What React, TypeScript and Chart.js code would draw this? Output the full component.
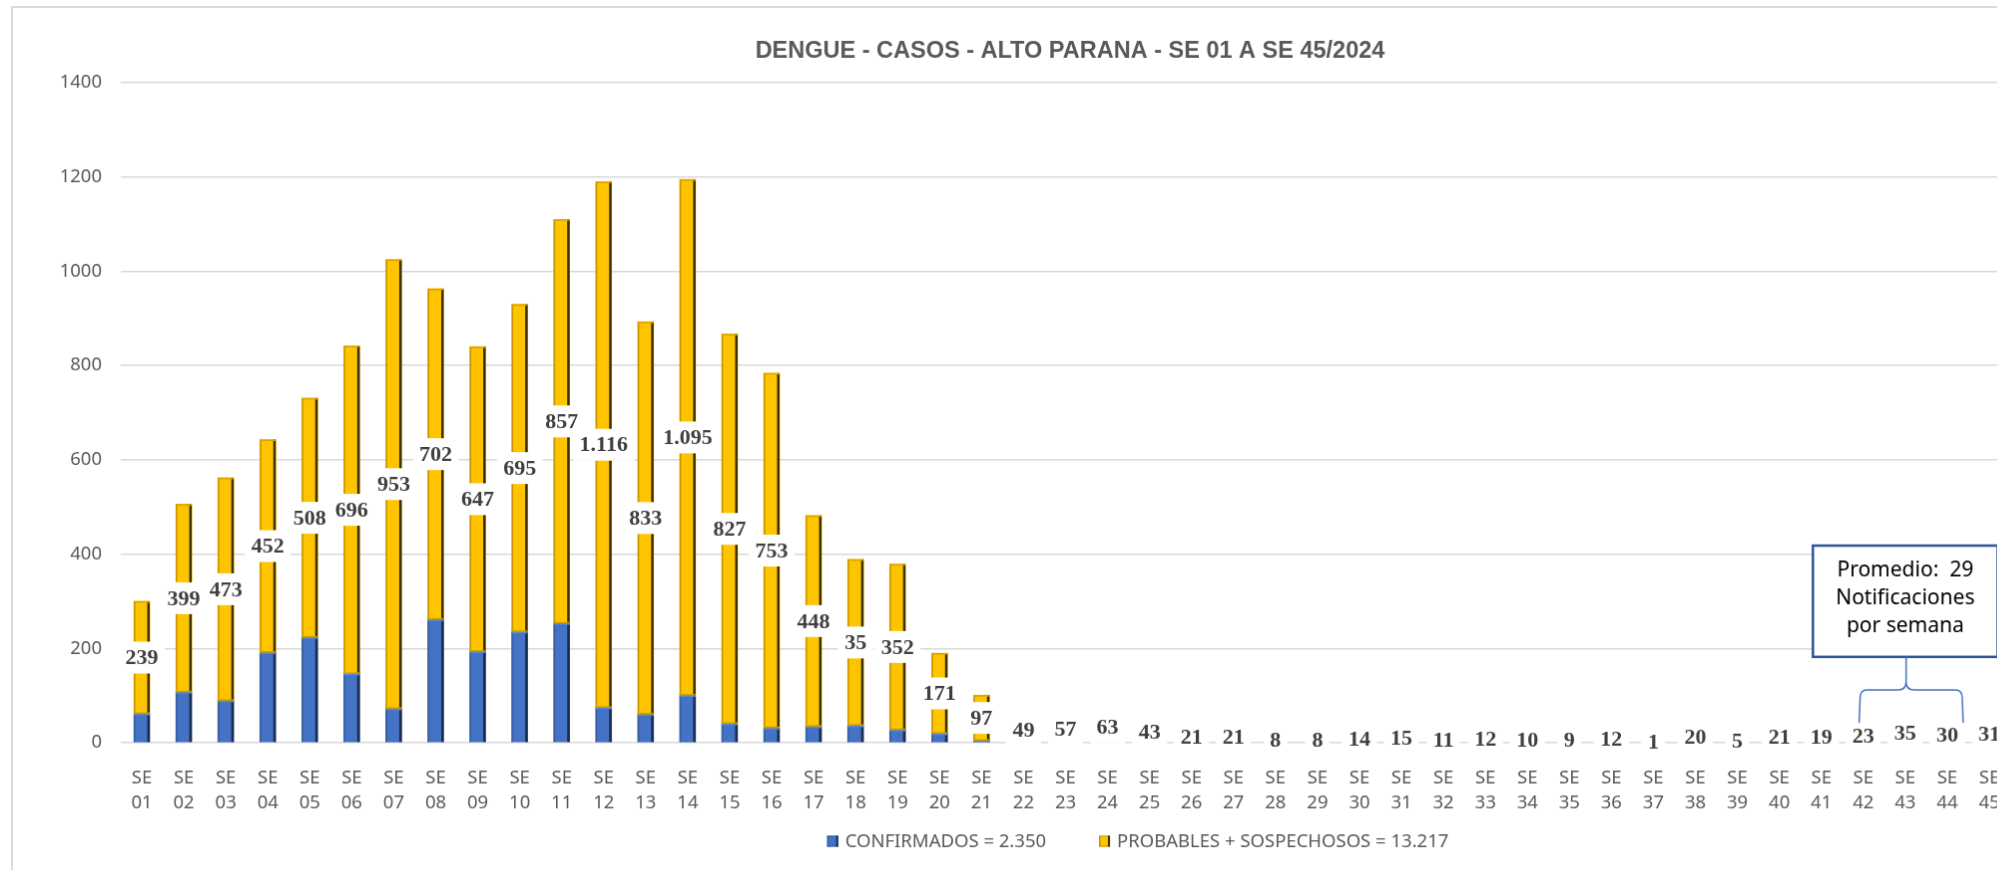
import React, { useEffect, useRef } from "react";
import { Chart, registerables } from "chart.js";

Chart.register(...registerables);

// ---------------- data ----------------
const weeks = [
  "01", "02", "03", "04", "05", "06", "07", "08", "09", "10",
  "11", "12", "13", "14", "15", "16", "17", "18", "19", "20",
  "21", "22", "23", "24", "25", "26", "27", "28", "29", "30",
  "31", "32", "33", "34", "35", "36", "37", "38", "39", "40",
  "41", "42", "43", "44", "45",
];

const confirmados = [
  61, 107, 89, 191, 223, 146, 72, 261, 193, 235,
  253, 74, 60, 100, 40, 31, 34, 36, 27, 19,
  4, 3, 1, 0, 1, 0, 1, 1, 1, 1,
  2, 1, 2, 1, 1, 2, 0, 2, 0, 2,
  2, 2, 2, 2, 2,
];

const probables = [
  239, 399, 473, 452, 508, 696, 953, 702, 647, 695,
  857, 1116, 833, 1095, 827, 753, 448, 353, 352, 171,
  97, 49, 57, 63, 43, 21, 21, 8, 8, 14,
  15, 11, 12, 10, 9, 12, 1, 20, 5, 21,
  19, 23, 35, 30, 31,
];

const probablesLabels = [
  "239", "399", "473", "452", "508", "696", "953", "702", "647", "695",
  "857", "1.116", "833", "1.095", "827", "753", "448", "35", "352", "171",
  "97", "49", "57", "63", "43", "21", "21", "8", "8", "14",
  "15", "11", "12", "10", "9", "12", "1", "20", "5", "21",
  "19", "23", "35", "30", "31",
];

const seriesNames = ["CONFIRMADOS = 2.350", "PROBABLES + SOSPECHOSOS = 13.217"];
const chartTitle = "DENGUE - CASOS - ALTO PARANA - SE 01 A SE 45/2024";
const noteLines = ["Promedio:  29", "Notificaciones", "por semana"];

const yMin = 0;
const yMax = 1400;
const yStep = 200;

// ---------------- styles ----------------
const BLUE = "#4472c4";
const YELLOW = "#ffc400";
const FONT_SANS = "'Noto Sans', 'DejaVu Sans', sans-serif";
const FONT_TITLE = "'Liberation Sans', Arial, sans-serif";
const FONT_LABEL = "'Liberation Serif', 'Times New Roman', serif";
const TEXT_GRAY = "#595959";

const EDGES = [
  { left: "#36609f", right: "#1c2c4c", top: "#5b86d2", bottom: null },
  { left: "#c79500", right: "#3a3000", top: "#d9a200", bottom: "#c9a000" },
];

// annotation placement in data units (category index / value)
const NOTE = { from: 39.8, to: 44.2, center: 42, top: 418, bottom: 182 };
const BRACE = { left: 40.9, right: 43.38, center: 42.02, tip: 182, mid: 112, end: 42 };

const CANVAS_W = 2118;
const CANVAS_H = 880;

const decorPlugin = {
  id: "decor",
  afterDatasetsDraw(chart: any) {
    const ctx = chart.ctx as CanvasRenderingContext2D;
    ctx.save();
    // bar edges (3D-like shading)
    chart.data.datasets.forEach((_ds: any, di: number) => {
      const meta = chart.getDatasetMeta(di);
      const e = EDGES[di];
      meta.data.forEach((el: any) => {
        const { x, y, base, width } = el.getProps(["x", "y", "base", "width"], true);
        const left = x - width / 2;
        const top = Math.min(y, base);
        const h = Math.abs(base - y);
        if (h < 0.5) return;
        ctx.fillStyle = e.left;
        ctx.fillRect(left, top, 1.5, h);
        ctx.fillStyle = e.right;
        ctx.fillRect(left + width - 2.5, top, 2.5, h);
        ctx.fillStyle = e.top;
        ctx.fillRect(left, top, width, Math.min(1.5, h));
        if (e.bottom && h > 3) {
          ctx.fillStyle = e.bottom;
          ctx.fillRect(left, top + h - 1.5, width, 1.5);
        }
      });
    });
    // data labels of the yellow series
    const meta = chart.getDatasetMeta(1);
    ctx.font = `bold 22px ${FONT_LABEL}`;
    ctx.textAlign = "center";
    ctx.textBaseline = "middle";
    meta.data.forEach((el: any, i: number) => {
      const { x, y, base } = el.getProps(["x", "y", "base"], true);
      const cy = (y + base) / 2;
      const txt = probablesLabels[i];
      const tw = ctx.measureText(txt).width;
      const bw = tw + 13;
      const bh = 32;
      ctx.fillStyle = "#ffffff";
      ctx.fillRect(x - bw / 2, cy - bh / 2, bw, bh);
      ctx.fillStyle = "#404040";
      ctx.fillText(txt, x, cy + 1);
    });
    ctx.restore();
  },
  afterDraw(chart: any) {
    const ctx = chart.ctx as CanvasRenderingContext2D;
    const xs = chart.scales.x;
    const ys = chart.scales.y;
    ctx.save();

    // title
    ctx.fillStyle = TEXT_GRAY;
    ctx.font = `bold 23.5px ${FONT_TITLE}`;
    ctx.textAlign = "center";
    ctx.textBaseline = "middle";
    ctx.fillText(chartTitle, chart.width / 2, 44);

    // note box
    const bl = xs.getPixelForValue(NOTE.from);
    const br = xs.getPixelForValue(NOTE.to);
    const bt = ys.getPixelForValue(NOTE.top);
    const bb = ys.getPixelForValue(NOTE.bottom);
    ctx.fillStyle = "#ffffff";
    ctx.fillRect(bl, bt, br - bl, bb - bt);
    ctx.strokeStyle = "#2f5597";
    ctx.lineWidth = 2.5;
    ctx.strokeRect(bl, bt, br - bl, bb - bt);
    ctx.fillStyle = "#000000";
    ctx.font = `21px ${FONT_SANS}`;
    ctx.textAlign = "center";
    ctx.textBaseline = "middle";
    const cx = xs.getPixelForValue(NOTE.center);
    const cyMid = (bt + bb) / 2 - 3;
    noteLines.forEach((ln, i) => {
      ctx.fillText(ln, cx, cyMid + (i - 1) * 28);
    });

    // brace
    const L = xs.getPixelForValue(BRACE.left);
    const R = xs.getPixelForValue(BRACE.right);
    const C = xs.getPixelForValue(BRACE.center);
    const yTip = ys.getPixelForValue(BRACE.tip);
    const yMid = ys.getPixelForValue(BRACE.mid);
    const yEnd = ys.getPixelForValue(BRACE.end);
    const r = 8;
    ctx.strokeStyle = BLUE;
    ctx.lineWidth = 1.5;
    ctx.beginPath();
    ctx.moveTo(L, yEnd);
    ctx.lineTo(L + 1, yMid + r);
    ctx.quadraticCurveTo(L + 1, yMid, L + r, yMid);
    ctx.lineTo(C - r, yMid);
    ctx.quadraticCurveTo(C, yMid, C, yMid - r);
    ctx.lineTo(C, yTip);
    ctx.moveTo(C, yMid - r);
    ctx.quadraticCurveTo(C, yMid, C + r, yMid);
    ctx.lineTo(R - r, yMid);
    ctx.quadraticCurveTo(R - 1, yMid, R - 1, yMid + r);
    ctx.lineTo(R, yEnd);
    ctx.stroke();

    // legend
    ctx.font = `18.5px ${FONT_SANS}`;
    ctx.textAlign = "left";
    ctx.textBaseline = "middle";
    const sq = 11;
    const gapText = 7;
    const gapItem = 53;
    const w0 = ctx.measureText(seriesNames[0]).width;
    const w1 = ctx.measureText(seriesNames[1]).width;
    const total = sq + gapText + w0 + gapItem + sq + gapText + w1;
    const ly = 837;
    let lx = chart.width / 2 + 68 - total / 2;
    const drawItem = (i: number, w: number) => {
      ctx.fillStyle = i === 0 ? BLUE : YELLOW;
      ctx.fillRect(lx, ly - sq / 2, sq, sq);
      ctx.fillStyle = EDGES[i].left;
      ctx.fillRect(lx, ly - sq / 2, 1.5, sq);
      ctx.fillRect(lx, ly - sq / 2, sq, 1);
      ctx.fillRect(lx, ly + sq / 2 - 1, sq, 1);
      ctx.fillStyle = EDGES[i].right;
      ctx.fillRect(lx + sq - 2, ly - sq / 2, 2, sq);
      ctx.fillStyle = TEXT_GRAY;
      ctx.fillText(seriesNames[i], lx + sq + gapText, ly + 1);
      lx += sq + gapText + w + gapItem;
    };
    drawItem(0, w0);
    drawItem(1, w1);

    ctx.restore();
  },
};

export default function App() {
  const ref = useRef<HTMLCanvasElement | null>(null);

  useEffect(() => {
    if (!ref.current) return;
    const chart = new Chart(ref.current, {
      type: "bar",
      data: {
        labels: weeks.map((w) => ["SE", w]),
        datasets: [
          {
            label: seriesNames[0],
            data: confirmados,
            backgroundColor: BLUE,
            borderWidth: 0,
            barThickness: 16,
          },
          {
            label: seriesNames[1],
            data: probables,
            backgroundColor: YELLOW,
            borderWidth: 0,
            barThickness: 16,
          },
        ],
      },
      options: {
        responsive: false,
        animation: false,
        devicePixelRatio: 1,
        layout: { padding: { left: 0, right: 117, top: 75, bottom: 72 } },
        plugins: {
          legend: { display: false },
          tooltip: { enabled: false },
          title: { display: false },
        },
        scales: {
          x: {
            stacked: true,
            grid: { display: false },
            border: { display: false },
            ticks: {
              autoSkip: false,
              maxRotation: 0,
              color: TEXT_GRAY,
              padding: 15.5,
              font: { family: FONT_SANS, size: 18.5, lineHeight: 1.35 },
            },
            afterFit: (s: any) => {
              s.height = 70;
            },
          },
          y: {
            stacked: true,
            min: yMin,
            max: yMax,
            grid: { color: "#d9d9d9", lineWidth: 1.5, drawTicks: false },
            border: { display: false },
            ticks: {
              stepSize: yStep,
              color: TEXT_GRAY,
              padding: 19,
              font: { family: FONT_SANS, size: 18.5 },
              callback: (v: any) => String(v),
            },
            afterFit: (s: any) => {
              s.width = 108;
            },
          },
        },
      },
      plugins: [decorPlugin],
    } as any);
    return () => chart.destroy();
  }, []);

  return (
    <div
      style={{
        position: "absolute",
        left: 0,
        top: 0,
        width: 1997,
        height: 870,
        overflow: "hidden",
        background: "#ffffff",
      }}
    >
      <canvas
        ref={ref}
        width={CANVAS_W}
        height={CANVAS_H}
        style={{
          position: "absolute",
          left: 11,
          top: 6,
          width: CANVAS_W,
          height: CANVAS_H,
          border: "2px solid #d9d9d9",
        }}
      />
    </div>
  );
}
